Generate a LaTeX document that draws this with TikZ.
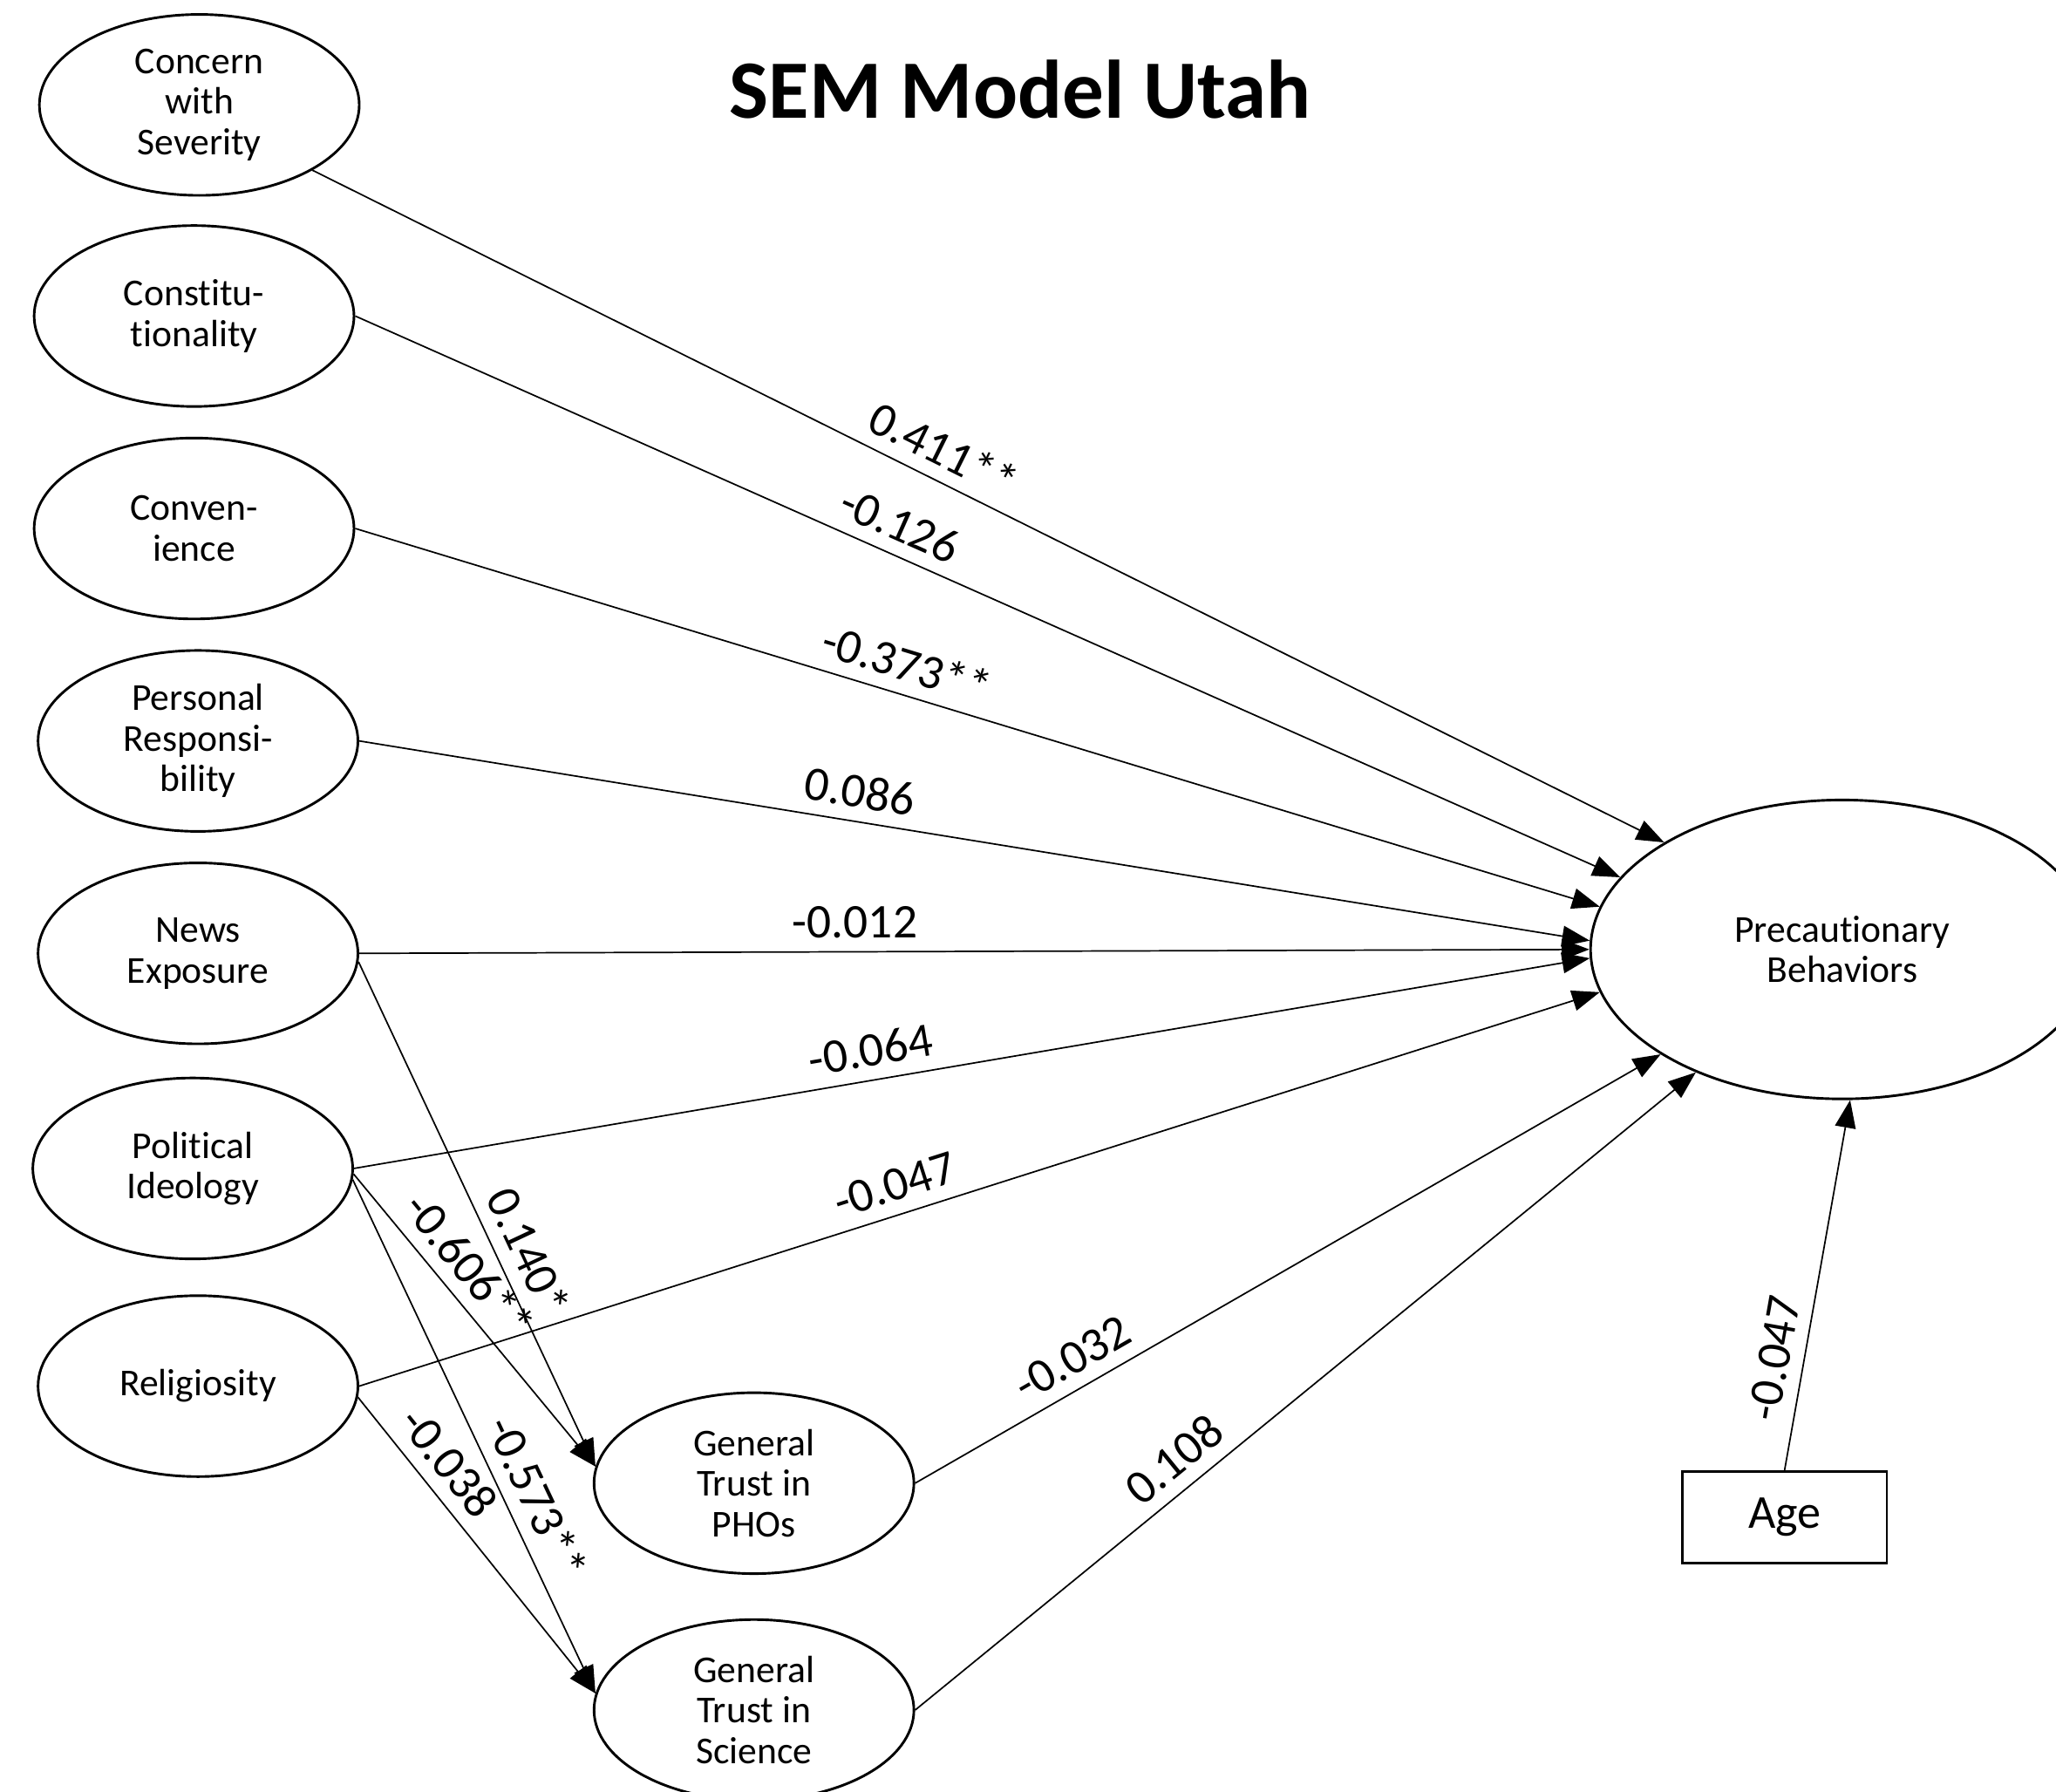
\documentclass[tikz,border=0pt]{standalone}
\usepackage{fontspec}
\setmainfont{Carlito}[Ligatures=NoCommon]
\usetikzlibrary{shapes.geometric,arrows.meta}
\begin{document}
\begin{tikzpicture}[x=0.02cm,y=-0.02cm,
  lat/.style={ellipse,draw,line width=1.1pt,minimum width=4.88cm,minimum height=2.76cm,inner sep=0pt,align=center,font=\fontsize{16.5}{17.6}\selectfont},
  obs/.style={rectangle,draw,line width=1.1pt,minimum width=3.12cm,minimum height=1.4cm,inner sep=0pt,font=\fontsize{20.5}{22}\selectfont},
  arr/.style={-{Triangle[length=12pt,width=9pt]},line width=0.65pt},
  lbl/.style={sloped,above,inner sep=2pt,outer sep=4pt,font=\fontsize{21}{21}\selectfont}]
\useasboundingbox (0,0) rectangle (1568,1366.5);
\node[font=\fontsize{36}{40}\selectfont\bfseries] (title) at (778,68) {SEM Model Utah};
\node[lat] (c1) at (152,80) {Concern\\with\\Severity};
\node[lat] (c2) at (148,241) {Constitu-\\tionality};
\node[lat] (c3) at (148,403) {Conven-\\ience};
\node[lat] (c4) at (151,565) {Personal\\Responsi-\\bility};
\node[lat] (ne) at (151,727) {News\\Exposure};
\node[lat] (pi) at (147,891) {Political\\Ideology};
\node[lat] (re) at (151,1057) {Religiosity};
\node[lat] (pho) at (575,1131) {General\\Trust in\\PHOs};
\node[lat] (sci) at (575,1304) {General\\Trust in\\Science};
\node[lat,minimum width=7.68cm,minimum height=4.56cm] (pb) at (1405,724) {Precautionary\\Behaviors};
\node[obs] (age) at (1361,1157) {Age};
\draw[arr] (c1.-30) -- node[lbl,pos=0.457]{0.411**} (pb.149);
\draw[arr] (c2.east) -- node[lbl,pos=0.421]{-0.126} (pb.162);
\draw[arr] (c3.east) -- node[lbl,pos=0.436]{-0.373**} (pb.170);
\draw[arr] (c4.east) -- node[lbl,pos=0.403]{0.086} (pb.178);
\draw[arr] (ne.east) -- node[lbl,pos=0.403]{-0.012} (pb.180);
\draw[arr] (pi.east) -- node[lbl,pos=0.422]{-0.064} (pb.182);
\draw[arr] (re.east) -- node[lbl,pos=0.439]{-0.047} (pb.190);
\draw[arr] (ne.-3) -- node[lbl,pos=0.6]{0.140*} (pho.174);
\draw[arr] (pi.-2) -- node[lbl,pos=0.38]{-0.606**} (pho.174);
\draw[arr] (pi.-4) -- node[lbl,pos=0.644]{-0.573**} (sci.174);
\draw[arr] (re.-4) -- node[lbl,pos=0.283]{-0.038} (sci.174);
\draw[arr] (pho.east) -- node[lbl,pos=0.231]{-0.032} (pb.210);
\draw[arr] (sci.east) -- node[lbl,pos=0.356]{0.108} (pb.220);
\draw[arr] (age.north) -- node[lbl,pos=0.289]{-0.047} (pb.-87);
\end{tikzpicture}
\end{document}
